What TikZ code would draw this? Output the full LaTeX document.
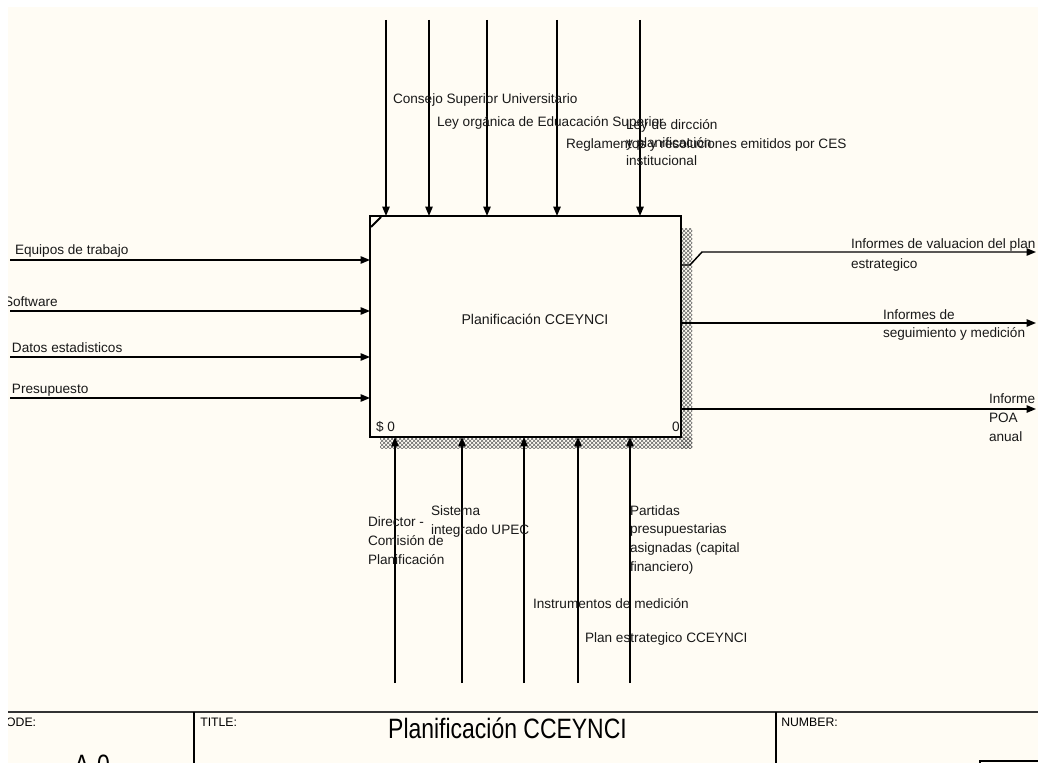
\documentclass[tikz,border=0pt]{standalone}
\usepackage{fontspec}
\setmainfont{Liberation Sans}
\newfontfamily\titlefont[FakeStretch=0.82]{Liberation Sans}
\usetikzlibrary{arrows.meta,patterns}
\definecolor{cream}{HTML}{FFFCF4}
\tikzset{
  conn/.style={draw=black, line width=1.1pt, -{Triangle[length=7pt,width=5.5pt]}},
  lbl/.style={inner sep=0pt, outer sep=0pt, anchor=base west, align=left,
    font=\fontsize{10.2pt}{14pt}\selectfont, text=black!90},
  ftlbl/.style={inner sep=0pt, anchor=base west, font=\fontsize{9.2pt}{11pt}\selectfont},
  bigtxt/.style={inner sep=0pt, font=\titlefont\fontsize{21pt}{24pt}\selectfont},
  actbox/.style={draw=black, line width=2.2pt, fill=cream, inner sep=0pt, outer sep=0pt,
    minimum width=233.25pt, minimum height=165.75pt}
}
\begin{document}
\begin{tikzpicture}[x=0.75pt,y=-0.75pt]
\useasboundingbox (0,0) rectangle (1038,763);
\fill[white] (0,0) rectangle (1038,763);
\fill[cream] (8,7) rectangle (1038,763);
\clip (8,7) rectangle (1038,763);

% shadow
\fill[pattern=crosshatch, pattern color=black!60] (681,228) rectangle (692,448);
\fill[pattern=crosshatch, pattern color=black!60] (380,437) rectangle (692,448);

% activity box
\node[actbox] (A0) at (525.5,326.5) {};
\node[lbl, anchor=base, font=\fontsize{10.6pt}{14pt}\selectfont] (A0lbl) at (535,324) {Planificación CCEYNCI};
\node[lbl] (A0cost) at (376,431) {\$ 0};
\node[lbl] (A0num) at (672,431) {0};
\draw[line width=1.5pt] (371,227) -- (381,217);

% top controls
\coordinate (t1) at (386,20);
\coordinate (t2) at (429,20);
\coordinate (t3) at (487,20);
\coordinate (t4) at (557,20);
\coordinate (t5) at (640,20);
\foreach \c in {t1,t2,t3,t4,t5} \draw[conn] (\c) -- (\c |- A0.north);

\node[lbl] (c1) at (393,104) {Consejo Superior Universitario};
\node[lbl] (c2) at (437,127) {Ley orgánica de Eduacación Superior};
\node[lbl, font=\fontsize{10.2pt}{13.5pt}\selectfont] (c3) at (626,166) {Ley de dircción\\y planificación\\institucional};
\node[lbl] (c4) at (566,149) {Reglamentos y resoluciones emitidos por CES};

% left inputs
\coordinate (i1) at (10,260);
\coordinate (i2) at (10,311);
\coordinate (i3) at (10,357);
\coordinate (i4) at (10,398);
\foreach \c in {i1,i2,i3,i4} \draw[conn] (\c) -- (\c -| A0.west);

\node[lbl] (in1) at (15,254) {Equipos de trabajo};
\node[lbl] (in2) at (4,306) {Software};
\node[lbl] (in3) at (12,352) {Datos estadisticos};
\node[lbl] (in4) at (12,393) {Presupuesto};

% right outputs
\coordinate (o1s) at (681,265);
\coordinate (o1a) at (690,265);
\coordinate (o1b) at (702,252);
\coordinate (o1e) at (1036,252);
\draw[conn] (o1s -| A0.east) -- (o1a) -- (o1b) -- (o1e);
\coordinate (o2e) at (1036,323);
\coordinate (o3e) at (1036,409);
\draw[conn] (o2e -| A0.east) -- (o2e);
\draw[conn] (o3e -| A0.east) -- (o3e);

\node[lbl, font=\fontsize{10.2pt}{15pt}\selectfont] (out1) at (851,268) {Informes de valuacion del plan\\estrategico};
\node[lbl, font=\fontsize{10.2pt}{12.8pt}\selectfont] (out2) at (883,337) {Informes de\\seguimiento y medición};
\node[lbl, font=\fontsize{10.2pt}{14pt}\selectfont] (out3) at (989,441) {Informe\\POA\\anual};

% bottom mechanisms
\coordinate (b1) at (395,683);
\coordinate (b2) at (462,683);
\coordinate (b3) at (524,683);
\coordinate (b4) at (578,683);
\coordinate (b5) at (630,683);
\foreach \c in {b1,b2,b3,b4,b5} \draw[conn] (\c) -- (\c |- A0.south);

\node[lbl] (m1) at (368,564) {Director -\\Comisión de\\Planificación};
\node[lbl] (m2) at (431,534) {Sistema\\integrado UPEC};
\node[lbl] (m3) at (630,571) {Partidas\\presupuestarias\\asignadas (capital\\financiero)};
\node[lbl] (m4) at (533,608) {Instrumentos de medición};
\node[lbl] (m5) at (585,642) {Plan estrategico CCEYNCI};

% footer
\draw[line width=1.5pt, black!80] (8,712) -- (1038,712);
\draw[line width=1.2pt] (194,712) -- (194,770);
\draw[line width=1.2pt] (776,712) -- (776,770);
\draw[line width=1pt] (980,761) rectangle (1060,790);
\node[ftlbl] (fnode) at (-3,726) {NODE:};
\node[ftlbl] (ftitle) at (200,726) {TITLE:};
\node[ftlbl] (fnum) at (781,726) {NUMBER:};
\node[bigtxt, anchor=base] (ftitletxt) at (507.5,738) {Planificación CCEYNCI};
\node[bigtxt, anchor=north] (fnodetxt) at (92,755) {A-0};
\end{tikzpicture}
\end{document}
